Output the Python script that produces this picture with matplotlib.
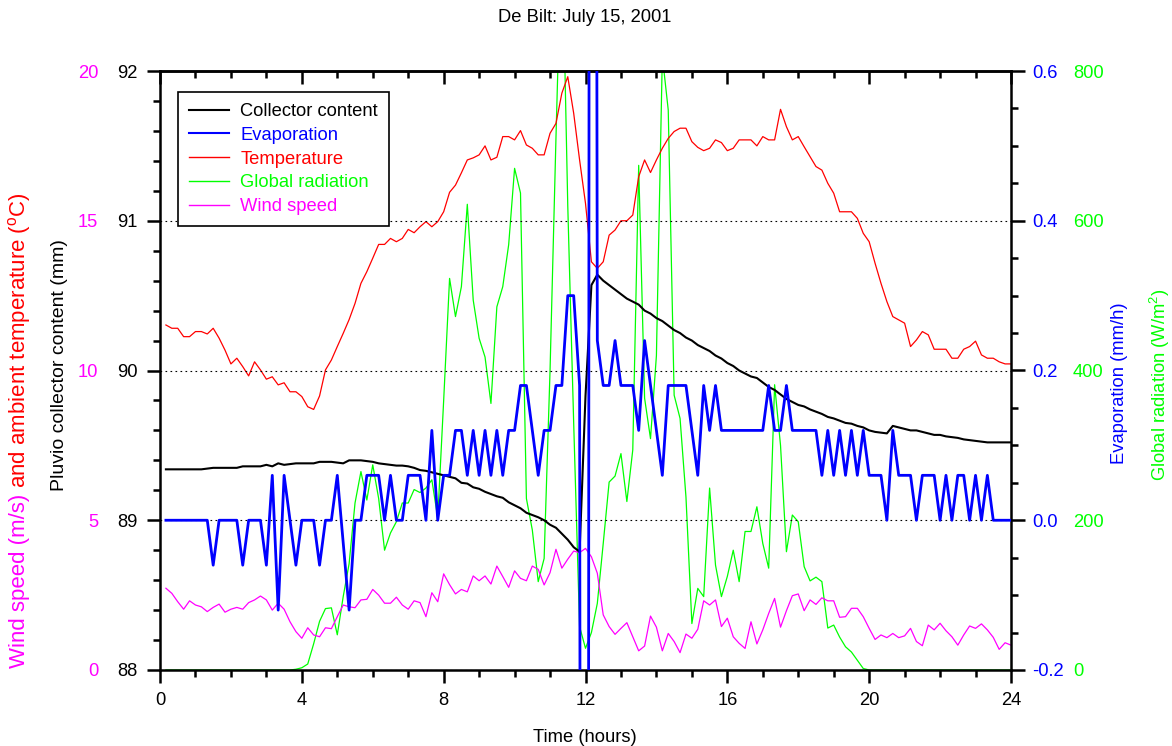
import numpy as np
import matplotlib
matplotlib.use("Agg")
import matplotlib.pyplot as plt
from matplotlib.ticker import MultipleLocator, FormatStrFormatter

plt.rcParams['font.family'] = ['Liberation Sans', 'DejaVu Sans']
plt.rcParams['mathtext.fontset'] = 'custom'
plt.rcParams['mathtext.rm'] = 'Liberation Sans'
plt.rcParams['mathtext.it'] = 'Liberation Sans:italic'
plt.rcParams['mathtext.bf'] = 'Liberation Sans:bold'

# 10-minute observations, De Bilt, 15 July 2001
minutes = np.arange(10, 1441, 10)
hours = minutes / 60.0

# Pluvio collector content (mm)
collector = [
    89.34, 89.34, 89.34, 89.34, 89.34, 89.34, 89.34, 89.345, 89.35, 89.35,
    89.35, 89.35, 89.35, 89.36, 89.36, 89.36, 89.36, 89.37, 89.36, 89.38,
    89.37, 89.375, 89.38, 89.38, 89.38, 89.38, 89.39, 89.39, 89.39, 89.385,
    89.38, 89.40, 89.40, 89.40, 89.395, 89.39, 89.38, 89.375, 89.37, 89.365,
    89.365, 89.36, 89.35, 89.335, 89.33, 89.32, 89.31, 89.30, 89.29, 89.28,
    89.25, 89.245, 89.22, 89.21, 89.19, 89.175, 89.16, 89.15, 89.12, 89.10,
    89.08, 89.05, 89.035, 89.02, 89.00, 88.97, 88.95, 88.91, 88.87, 88.82,
    88.79, 89.83, 90.57, 90.64, 90.60, 90.57, 90.54, 90.51, 90.48, 90.46,
    90.44, 90.40, 90.38, 90.35, 90.33, 90.30, 90.27, 90.25, 90.22, 90.20,
    90.17, 90.15, 90.13, 90.10, 90.08, 90.05, 90.03, 90.00, 89.98, 89.96,
    89.95, 89.92, 89.89, 89.87, 89.84, 89.81, 89.79, 89.77, 89.76, 89.74,
    89.725, 89.71, 89.69, 89.68, 89.665, 89.65, 89.645, 89.63, 89.62, 89.60,
    89.59, 89.585, 89.58, 89.63, 89.62, 89.61, 89.60, 89.60, 89.59, 89.58,
    89.57, 89.57, 89.56, 89.555, 89.55, 89.54, 89.535, 89.53, 89.525, 89.52,
    89.52, 89.52, 89.52, 89.52,
]

# Evaporation (mm/h)
evaporation = [
    0.0, 0.0, 0.0, 0.0, 0.0, 0.0, 0.0, 0.0, -0.06, 0.0,
    0.0, 0.0, 0.0, -0.06, 0.0, 0.0, 0.0, -0.06, 0.06, -0.12,
    0.06, 0.0, -0.06, 0.0, 0.0, 0.0, -0.06, 0.0, 0.0, 0.06,
    -0.03, -0.12, 0.0, 0.0, 0.06, 0.06, 0.06, 0.0, 0.06, 0.0,
    0.0, 0.06, 0.06, 0.06, 0.0, 0.12, 0.0, 0.06, 0.06, 0.12,
    0.12, 0.06, 0.12, 0.06, 0.12, 0.06, 0.12, 0.06, 0.12, 0.12,
    0.18, 0.18, 0.12, 0.06, 0.12, 0.12, 0.18, 0.18, 0.30, 0.30,
    0.18, -6.0, 5.0, 0.24, 0.18, 0.18, 0.24, 0.18, 0.18, 0.18,
    0.12, 0.24, 0.18, 0.12, 0.06, 0.18, 0.18, 0.18, 0.18, 0.12,
    0.06, 0.18, 0.12, 0.18, 0.12, 0.12, 0.12, 0.12, 0.12, 0.12,
    0.12, 0.12, 0.18, 0.12, 0.12, 0.18, 0.12, 0.12, 0.12, 0.12,
    0.12, 0.06, 0.12, 0.06, 0.12, 0.06, 0.12, 0.06, 0.12, 0.06,
    0.06, 0.06, 0.0, 0.12, 0.06, 0.06, 0.06, 0.0, 0.06, 0.06,
    0.06, 0.0, 0.06, 0.0, 0.06, 0.06, 0.0, 0.06, 0.0, 0.06,
    0.0, 0.0, 0.0, 0.0,
]

# Ambient temperature (deg C)
temperature = [
    11.52, 11.41, 11.41, 11.13, 11.13, 11.30, 11.30, 11.22, 11.41, 11.08,
    10.68, 10.22, 10.41, 10.13, 9.82, 10.29, 10.02, 9.71, 9.79, 9.52,
    9.59, 9.29, 9.29, 9.13, 8.79, 8.70, 9.15, 10.02, 10.35, 10.80,
    11.24, 11.70, 12.24, 12.91, 13.30, 13.75, 14.21, 14.21, 14.41, 14.30,
    14.41, 14.71, 14.60, 14.80, 14.97, 14.80, 14.97, 15.30, 15.95, 16.19,
    16.60, 17.03, 17.10, 17.20, 17.50, 17.03, 17.12, 17.81, 17.81, 17.70,
    18.01, 17.53, 17.42, 17.20, 17.20, 17.92, 18.25, 19.26, 19.81, 18.59,
    17.03, 15.58, 13.63, 13.41, 13.63, 14.52, 14.69, 15.00, 15.00, 15.19,
    16.47, 17.03, 16.61, 17.03, 17.42, 17.75, 17.98, 18.09, 18.09, 17.64,
    17.45, 17.34, 17.42, 17.70, 17.61, 17.34, 17.42, 17.70, 17.70, 17.70,
    17.50, 17.81, 17.70, 17.70, 18.72, 18.14, 17.70, 17.81, 17.47, 17.14,
    16.81, 16.69, 16.25, 15.92, 15.30, 15.30, 15.30, 15.08, 14.58, 14.30,
    13.58, 12.91, 12.30, 11.80, 11.69, 11.58, 10.80, 11.02, 11.30, 11.19,
    10.71, 10.71, 10.71, 10.41, 10.41, 10.71, 10.80, 10.98, 10.52, 10.41,
    10.41, 10.29, 10.22, 10.22,
]

# Global radiation (W/m2)
radiation = [
    0, 0, 0, 0, 0, 0, 0, 0, 0, 0,
    0, 0, 0, 0, 0, 0, 0, 0, 0, 0,
    0, 0, 1, 3, 8, 35, 65, 82, 83, 47,
    98, 142, 223, 265, 227, 274, 229, 160, 183, 198,
    223, 223, 241, 237, 243, 254, 203, 360, 523, 472,
    512, 622, 494, 443, 418, 356, 485, 512, 568, 670,
    637, 229, 187, 118, 149, 400, 710, 1000, 620, 330,
    58, 29, 50, 89, 169, 251, 259, 289, 225, 294,
    674, 363, 309, 420, 820, 748, 367, 336, 231, 62,
    109, 98, 243, 140, 98, 125, 160, 118, 185, 185,
    218, 169, 136, 381, 300, 158, 207, 198, 138, 119,
    124, 118, 56, 60, 44, 31, 24, 13, 2, 0,
    0, 0, 0, 0, 0, 0, 0, 0, 0, 0,
    0, 0, 0, 0, 0, 0, 0, 0, 0, 0,
    0, 0, 0, 0,
]

# Wind speed (m/s)
wind = [
    2.73, 2.56, 2.28, 2.03, 2.31, 2.17, 2.11, 1.95, 2.09, 2.20,
    1.93, 2.03, 2.09, 2.03, 2.25, 2.34, 2.47, 2.34, 2.00, 2.23,
    2.03, 1.61, 1.28, 1.06, 1.41, 1.17, 1.11, 1.41, 1.38, 1.78,
    2.17, 2.11, 2.08, 2.34, 2.36, 2.69, 2.50, 2.23, 2.23, 2.43,
    2.17, 2.03, 2.31, 2.25, 1.78, 2.58, 2.28, 3.21, 2.85, 2.54,
    2.69, 2.61, 3.14, 2.98, 3.14, 2.87, 3.47, 3.12, 2.76, 3.31,
    3.06, 2.98, 3.47, 3.36, 2.84, 3.25, 4.03, 3.40, 3.70, 3.97,
    3.92, 4.06, 3.78, 3.23, 1.84, 1.45, 1.19, 1.39, 1.58, 1.11,
    0.64, 0.80, 1.80, 1.43, 0.64, 1.22, 0.95, 0.58, 1.20, 1.06,
    1.36, 2.31, 2.17, 2.34, 1.45, 1.73, 1.11, 0.89, 0.72, 1.61,
    0.87, 1.34, 1.89, 2.39, 1.43, 1.98, 2.48, 2.54, 1.98, 2.34,
    2.19, 2.41, 2.31, 2.31, 1.76, 1.78, 2.06, 2.06, 1.78, 1.39,
    1.02, 1.17, 1.08, 1.22, 1.08, 1.14, 1.39, 0.95, 0.81, 1.50,
    1.34, 1.56, 1.31, 1.11, 0.83, 1.17, 1.47, 1.39, 1.54, 1.34,
    1.09, 0.69, 0.91, 0.83,
]

MAGENTA = '#ff00ff'
RED = '#ff0000'
GREEN = '#00ff00'
BLUE = '#0000ff'
FS = 13.2
SPINE_W = 1.8

W, H = 1172, 746
fig = plt.figure(figsize=(W / 100, H / 100), dpi=100)
fig.patch.set_facecolor('white')


def px(x, y):
    return x / W, 1 - y / H


L, R, B, T = 160, 1011, 670, 71
ax = fig.add_axes([L / W, 1 - B / H, (R - L) / W, (B - T) / H])
ax_rad = ax.twinx()
ax_tw = ax.twinx()
ax_ev = ax.twinx()

ax_rad.set_zorder(1)
ax_tw.set_zorder(2)
ax.set_zorder(3)
ax_ev.set_zorder(4)
ax.patch.set_visible(False)
for a in (ax_rad, ax_tw, ax_ev):
    for s in a.spines.values():
        s.set_visible(False)

# series
l_rad, = ax_rad.plot(hours, radiation, color=GREEN, lw=0.9, label='Global radiation')
l_wind, = ax_tw.plot(hours, wind, color=MAGENTA, lw=0.9, label='Wind speed')
l_temp, = ax_tw.plot(hours, temperature, color=RED, lw=0.9, label='Temperature')
l_coll, = ax.plot(hours, collector, color='black', lw=1.5, label='Collector content')
l_ev, = ax_ev.plot(hours, evaporation, color=BLUE, lw=2.0, label='Evaporation')

# limits
ax.set_xlim(0, 24)
ax.set_ylim(88, 92)
ax_tw.set_ylim(0, 20)
ax_ev.set_ylim(-0.2, 0.6)
ax_rad.set_ylim(0, 800)

# main frame
for s in ax.spines.values():
    s.set_linewidth(SPINE_W)

ax.xaxis.set_major_locator(MultipleLocator(4))
ax.xaxis.set_minor_locator(MultipleLocator(1))
ax.tick_params(axis='x', which='major', direction='out', length=9.4, width=SPINE_W,
               pad=6.5, labelsize=FS)
ax.tick_params(axis='x', which='minor', direction='out', length=5, width=SPINE_W)

top = ax.secondary_xaxis('top')
top.xaxis.set_major_locator(MultipleLocator(4))
top.xaxis.set_minor_locator(MultipleLocator(1))
top.tick_params(axis='x', which='major', direction='in', length=9.4, width=SPINE_W,
                labeltop=False)
top.tick_params(axis='x', which='minor', direction='in', length=5, width=SPINE_W)
top.spines['top'].set_linewidth(SPINE_W)

ax.yaxis.set_major_locator(MultipleLocator(1))
ax.yaxis.set_minor_locator(MultipleLocator(0.2))
ax.yaxis.set_major_formatter(FormatStrFormatter('%d'))
ax.tick_params(axis='y', which='major', direction='out', length=9.4, width=SPINE_W,
               pad=6.5, labelsize=FS)
ax.tick_params(axis='y', which='minor', direction='out', length=5, width=SPINE_W)
ax.grid(axis='y', which='major', color='black', linestyle=(0, (1.5, 3)), linewidth=0.8)

# wind speed / temperature scale (labels only)
ax_tw.yaxis.tick_left()
ax_tw.yaxis.set_major_locator(MultipleLocator(5))
ax_tw.tick_params(axis='y', which='both', length=0, pad=44.6, labelsize=FS,
                  labelcolor=MAGENTA)

# evaporation scale on the right spine
ax_ev.yaxis.set_major_locator(MultipleLocator(0.2))
ax_ev.yaxis.set_minor_locator(MultipleLocator(0.05))
ax_ev.yaxis.set_major_formatter(FormatStrFormatter('%.1f'))
ax_ev.tick_params(axis='y', which='major', direction='out', length=10, width=SPINE_W,
                  pad=5, labelsize=FS, labelcolor=BLUE)
ax_ev.tick_params(axis='y', which='minor', direction='out', length=5, width=SPINE_W)

# radiation scale (labels only)
ax_rad.yaxis.set_major_locator(MultipleLocator(200))
ax_rad.tick_params(axis='y', which='both', length=0, pad=44.6, labelsize=FS,
                   labelcolor=GREEN)

# titles and axis labels
fig.text(*px(585, 18), 'De Bilt: July 15, 2001', ha='center', va='center', fontsize=FS)
fig.text(*px(585, 737), 'Time (hours)', ha='center', va='center', fontsize=FS)
fig.text(*px(60, 365), 'Pluvio collector content (mm)', ha='center', va='center',
         rotation=90, fontsize=14)
fig.text(*px(1119, 383), 'Evaporation (mm/h)', ha='center', va='center',
         rotation=90, fontsize=FS, color=BLUE)
fig.text(*px(1160, 385), 'Global radiation (W/m$^2$)', ha='center', va='center',
         rotation=90, fontsize=FS, color=GREEN)

t1 = fig.text(*px(20, 668), 'Wind speed (m/s)', ha='center', va='bottom',
              rotation=90, fontsize=16, color=MAGENTA)
renderer = fig.canvas.get_renderer()
bb = t1.get_window_extent(renderer)
fig.text(20 / W, bb.y1 / H, ' and ambient temperature ($^{\\mathrm{o}}$C)', ha='center',
         va='bottom', rotation=90, fontsize=16, color=RED)

# legend
leg = ax_ev.legend([l_coll, l_ev, l_temp, l_rad, l_wind],
                   ['Collector content', 'Evaporation', 'Temperature',
                    'Global radiation', 'Wind speed'],
                   loc='upper left', bbox_to_anchor=(0.021, 0.965), borderaxespad=0,
                   fontsize=FS, frameon=True, fancybox=False, framealpha=1,
                   edgecolor='black', handlelength=2.2, handletextpad=0.6,
                   labelspacing=0.37, borderpad=0.6, labelcolor='linecolor')
leg.get_frame().set_linewidth(1.2)
for h in leg.legend_handles:
    h.set_linewidth(1.5 if h.get_color() in ('black', BLUE) else 1.0)

fig.savefig('out.png', dpi=100, facecolor='white')
